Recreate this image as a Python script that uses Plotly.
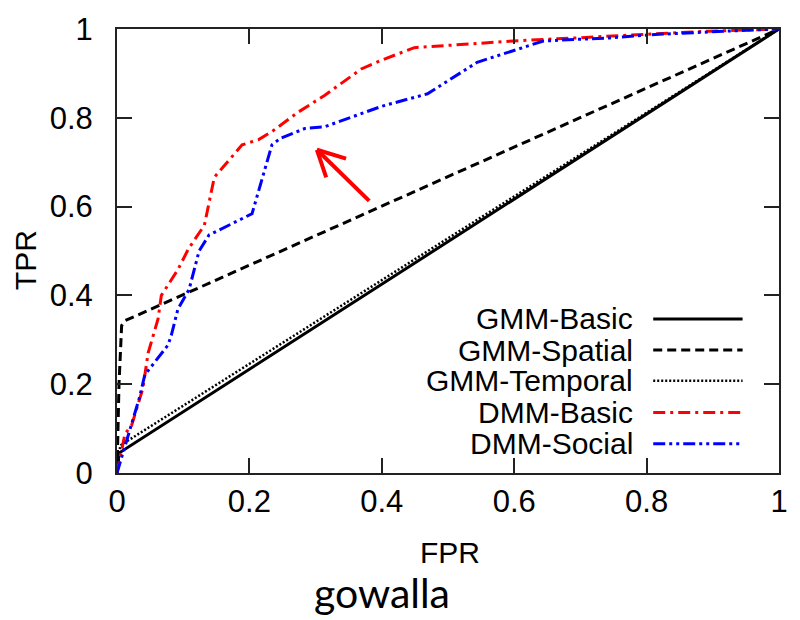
import plotly.graph_objects as go

# ---- data ----
gmm_basic_fpr = [0.0, 0.003, 1.0]
gmm_basic_tpr = [0.0, 0.045, 1.0]

gmm_spatial_fpr = [0.0, 0.003, 0.007, 0.012, 1.0]
gmm_spatial_tpr = [0.0, 0.20, 0.332, 0.343, 1.0]

gmm_temporal_fpr = [0.0, 0.005, 1.0]
gmm_temporal_tpr = [0.0, 0.062, 1.0]

dmm_basic_fpr = [0.0, 0.012, 0.022, 0.039, 0.047, 0.062, 0.067, 0.092, 0.108, 0.132, 0.147,
                 0.189, 0.214, 0.234, 0.274, 0.314, 0.369, 0.40, 0.449, 0.599, 0.694, 0.794, 0.893, 1.0]
dmm_basic_tpr = [0.0, 0.088, 0.107, 0.19, 0.27, 0.347, 0.40, 0.458, 0.505, 0.558, 0.666,
                 0.739, 0.751, 0.769, 0.813, 0.851, 0.910, 0.930, 0.958, 0.973, 0.980, 0.988, 0.995, 1.0]

dmm_social_fpr = [0.0, 0.015, 0.022, 0.034, 0.042, 0.077, 0.082, 0.092, 0.109, 0.124, 0.139,
                  0.204, 0.234, 0.247, 0.284, 0.314, 0.40, 0.469, 0.544, 0.644, 0.744, 0.818, 0.918, 1.0]
dmm_social_tpr = [0.0, 0.073, 0.107, 0.17, 0.221, 0.288, 0.31, 0.369, 0.414, 0.50, 0.536,
                  0.584, 0.739, 0.754, 0.776, 0.780, 0.826, 0.854, 0.925, 0.973, 0.980, 0.988, 0.995, 1.0]

series_names = ["GMM-Basic", "GMM-Spatial", "GMM-Temporal", "DMM-Basic", "DMM-Social"]
series_colors = ["black", "black", "black", "#ff0000", "#0000ff"]
series_dash = ["solid", "9px,5px", "2px,2px", "12px,5px,3px,5px", "12px,4px,3px,4px,3px,4px"]
series_width = [3, 3, 2.5, 3, 3]

tick_vals = [0, 0.2, 0.4, 0.6, 0.8, 1]
tick_text = ["0", "0.2", "0.4", "0.6", "0.8", "1"]

arrow_tail = (0.381, 0.613)
arrow_tip = (0.302, 0.728)
arrow_arm1 = (0.346, 0.708)
arrow_arm2 = (0.316, 0.666)

xs = [gmm_basic_fpr, gmm_spatial_fpr, gmm_temporal_fpr, dmm_basic_fpr, dmm_social_fpr]
ys = [gmm_basic_tpr, gmm_spatial_tpr, gmm_temporal_tpr, dmm_basic_tpr, dmm_social_tpr]

FONT = "Liberation Sans, Arial, sans-serif"

fig = go.Figure()
for i in range(5):
    fig.add_trace(go.Scatter(x=xs[i], y=ys[i], mode="lines", name=series_names[i],
                             line=dict(color=series_colors[i], dash=series_dash[i],
                                       width=series_width[i]),
                             showlegend=False))

shapes = []
# manual legend (text right-aligned, sample to the right)
legend_y = [0.347, 0.277, 0.208, 0.136, 0.066]
annotations = []
for i in range(5):
    annotations.append(dict(x=0.782, y=legend_y[i], xref="paper", yref="paper",
                            text=series_names[i], showarrow=False, xanchor="right",
                            yanchor="middle", font=dict(family=FONT, size=30, color="black")))
    shapes.append(dict(type="line", xref="paper", yref="paper", x0=0.810, x1=0.945,
                       y0=legend_y[i], y1=legend_y[i],
                       line=dict(color=series_colors[i], dash=series_dash[i],
                                 width=series_width[i])))

# arrow
for end in (arrow_tail, arrow_arm1, arrow_arm2):
    shapes.append(dict(type="line", xref="x", yref="y", x0=end[0], y0=end[1],
                       x1=arrow_tip[0], y1=arrow_tip[1],
                       line=dict(color="#ff0000", width=4)))

annotations.append(dict(x=0.503, y=-0.18, xref="paper", yref="paper", text="FPR",
                        showarrow=False, xanchor="center", yanchor="middle",
                        font=dict(family=FONT, size=30, color="black")))
annotations.append(dict(x=-0.137, y=0.48, xref="paper", yref="paper", text="TPR",
                        showarrow=False, textangle=-90, xanchor="center", yanchor="middle",
                        font=dict(family=FONT, size=30, color="black")))
annotations.append(dict(x=0.40, y=-0.27, xref="paper", yref="paper", text="gowalla",
                        showarrow=False, xanchor="center", yanchor="middle",
                        font=dict(family="Lato, Open Sans, sans-serif", size=41, color="black")))

axis_common = dict(range=[0, 1], tickvals=tick_vals, ticktext=tick_text,
                   ticks="inside", ticklen=15, tickwidth=2, tickcolor="#222",
                   showline=True, linecolor="#222", linewidth=2, mirror="ticks",
                   showgrid=False, zeroline=False,
                   tickfont=dict(family=FONT, size=31, color="black"))

fig.update_layout(
    width=800, height=620,
    margin=dict(l=117, r=15, t=23, b=147),
    paper_bgcolor="white", plot_bgcolor="white",
    xaxis=dict(**axis_common, ticklabelstandoff=0),
    yaxis=dict(**axis_common, ticklabelstandoff=16),
    shapes=shapes, annotations=annotations,
    showlegend=False,
)

fig.write_html("out.html")
